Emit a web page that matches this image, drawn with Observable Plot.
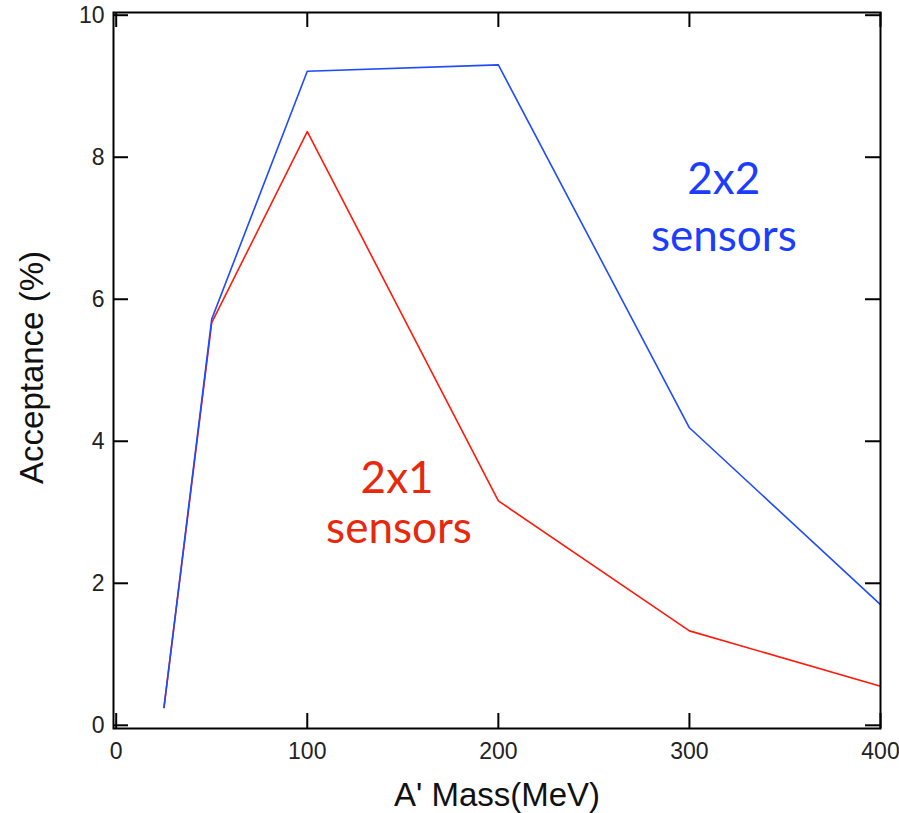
<!DOCTYPE html>
<html>
<head>
<meta charset="utf-8">
<script src="https://cdn.jsdelivr.net/npm/d3@7"></script>
<script src="https://cdn.jsdelivr.net/npm/@observablehq/plot@0.6"></script>
<style>
  html, body { margin: 0; padding: 0; background: #fff; }
  #chart svg { display: block; }
</style>
</head>
<body>
<div id="chart"></div>
<script>
// Data
const massMeV = [25, 50, 100, 200, 300, 400];
const accept2x2 = [0.25, 5.72, 9.21, 9.30, 4.19, 1.70];
const accept2x1 = [0.25, 5.67, 8.36, 3.16, 1.33, 0.55];

const xTicks = [0, 100, 200, 300, 400];
const yTicks = [0, 2, 4, 6, 8, 10];

const xLabel = "A' Mass(MeV)";
const yLabel = "Acceptance (%)";

// annotation labels (data coordinates)
const notes = [
  {text: "2x2", x: 318, y: 7.68, color: "#1a3dff"},
  {text: "sensors", x: 318, y: 6.88, color: "#1a3dff"},
  {text: "2x1", x: 147, y: 3.47, color: "#e8280c"},
  {text: "sensors", x: 148, y: 2.77, color: "#e8280c"}
];

const blue = "#1e4bff";
const red = "#ff1a0a";

const series2x2 = massMeV.map((m, i) => ({m, v: accept2x2[i]}));
const series2x1 = massMeV.map((m, i) => ({m, v: accept2x1[i]}));

const W = 899, H = 813;
const mL = 113, mR = 19, mT = 12, mB = 85;
const innerW = W - mL - mR, innerH = H - mT - mB;
const tickLen = 15;

const chart = Plot.plot({
  width: W,
  height: H,
  marginLeft: mL,
  marginRight: mR,
  marginTop: mT,
  marginBottom: mB,
  style: {fontFamily: "'Liberation Sans', Arial, sans-serif", background: "#fff", color: "#222"},
  x: {domain: [-1.41, 400]},
  y: {domain: [-0.045, 10.038]},
  marks: [
    Plot.line(series2x1, {x: "m", y: "v", stroke: red, strokeWidth: 1.6}),
    Plot.line(series2x2, {x: "m", y: "v", stroke: blue, strokeWidth: 1.6}),
    Plot.frame({stroke: "black", strokeWidth: 2}),
    // inward ticks on all four sides
    Plot.tickX(xTicks, {x: d => d, stroke: "black", strokeWidth: 2, insetTop: innerH - tickLen}),
    Plot.tickX(xTicks, {x: d => d, stroke: "black", strokeWidth: 2, insetBottom: innerH - tickLen}),
    Plot.tickY(yTicks, {y: d => d, stroke: "black", strokeWidth: 2, insetRight: innerW - tickLen}),
    Plot.tickY(yTicks, {y: d => d, stroke: "black", strokeWidth: 2, insetLeft: innerW - tickLen}),
    Plot.axisX({ticks: xTicks, tickSize: 0, tickPadding: 14, fontSize: 23, label: null, tickFormat: d => String(d)}),
    Plot.axisY({ticks: yTicks, tickSize: 0, tickPadding: 9, fontSize: 23, label: null, tickFormat: d => String(d)}),
    Plot.text([xLabel], {frameAnchor: "bottom", text: d => d, lineAnchor: "top", dy: 54, fontSize: 33, fill: "#111"}),
    Plot.text([yLabel], {frameAnchor: "left", text: d => d, rotate: -90, textAnchor: "middle", dx: -81, dy: -3, fontSize: 33, fill: "#111"}),
    Plot.text(notes, {x: "x", y: "y", text: "text", fill: "color", fontSize: 44, fontFamily: "Lato, 'Open Sans', sans-serif", textAnchor: "middle"})
  ]
});

document.getElementById("chart").appendChild(chart);
</script>
</body>
</html>
